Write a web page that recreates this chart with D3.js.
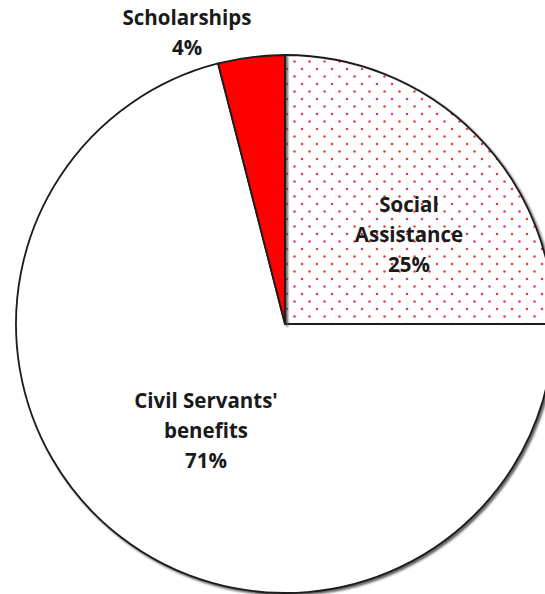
<!DOCTYPE html>
<html>
<head>
<meta charset="utf-8">
<script src="https://cdn.jsdelivr.net/npm/d3@7"></script>
<style>
  html, body { margin: 0; padding: 0; background: #fff; }
  svg { display: block; }
  text { font-family: "Open Sans", "Noto Sans", sans-serif; font-weight: 700; fill: #1a1a1a; }
</style>
</head>
<body>
<svg id="chart" width="545" height="594"></svg>
<script>
// Budget shares by programme
const categories = ["Social Assistance", "Civil Servants' benefits", "Scholarships"];
const values = [25, 71, 4];
const labelLines = [["Social", "Assistance"], ["Civil Servants'", "benefits"], ["Scholarships"]];
const fills = ["url(#dots)", "#ffffff", "#ff0000"];

const width = 545, height = 594;
const cx = 285, cy = 324, radius = 269;

const svg = d3.select("#chart");
const defs = svg.append("defs");

// Sparse red dot pattern for the Social Assistance slice
const pat = defs.append("pattern")
  .attr("id", "dots").attr("patternUnits", "userSpaceOnUse")
  .attr("width", 15).attr("height", 15).attr("x", 2).attr("y", 0);
pat.append("rect").attr("width", 15).attr("height", 15).attr("fill", "#fff");
[[0, 0], [15, 0], [0, 15], [15, 15], [7.5, 7.5]].forEach(([x, y]) => {
  pat.append("circle").attr("cx", x).attr("cy", y).attr("r", 1.25).attr("fill", "#e43a45");
});

const shadow = defs.append("filter").attr("id", "shadow")
  .attr("x", "-10%").attr("y", "-10%").attr("width", "120%").attr("height", "120%");
shadow.append("feDropShadow").attr("dx", 2).attr("dy", 2)
  .attr("stdDeviation", 1).attr("flood-color", "#444").attr("flood-opacity", 0.85);

const pie = d3.pie().sort(null).value(d => d);
const arcs = pie(values);
const arc = d3.arc().innerRadius(0).outerRadius(radius);

const g = svg.append("g").attr("transform", `translate(${cx},${cy})`);

g.selectAll("path.slice")
  .data(arcs)
  .join("path")
  .attr("class", "slice")
  .attr("d", arc)
  .attr("fill", (d, i) => fills[i])
  .attr("stroke", "#1a1a1a")
  .attr("stroke-width", 1.8)
  .attr("stroke-linejoin", "round")
  .attr("filter", "url(#shadow)");

// Label anchor points: x centre and first-line baseline, relative to the pie centre
const labelPos = [[124, -112], [-79, 84], [-98, -299]];
const lineH = 30;
const fs = 20.5;

arcs.forEach((d, i) => {
  const lines = labelLines[i].concat([Math.round(values[i] / d3.sum(values) * 100) + "%"]);
  const [lx, ly] = labelPos[i];
  const t = g.append("text").attr("text-anchor", "middle").attr("font-size", fs);
  lines.forEach((s, k) => {
    t.append("tspan").attr("x", lx).attr("y", ly + k * lineH).text(s);
  });
});
</script>
</body>
</html>
